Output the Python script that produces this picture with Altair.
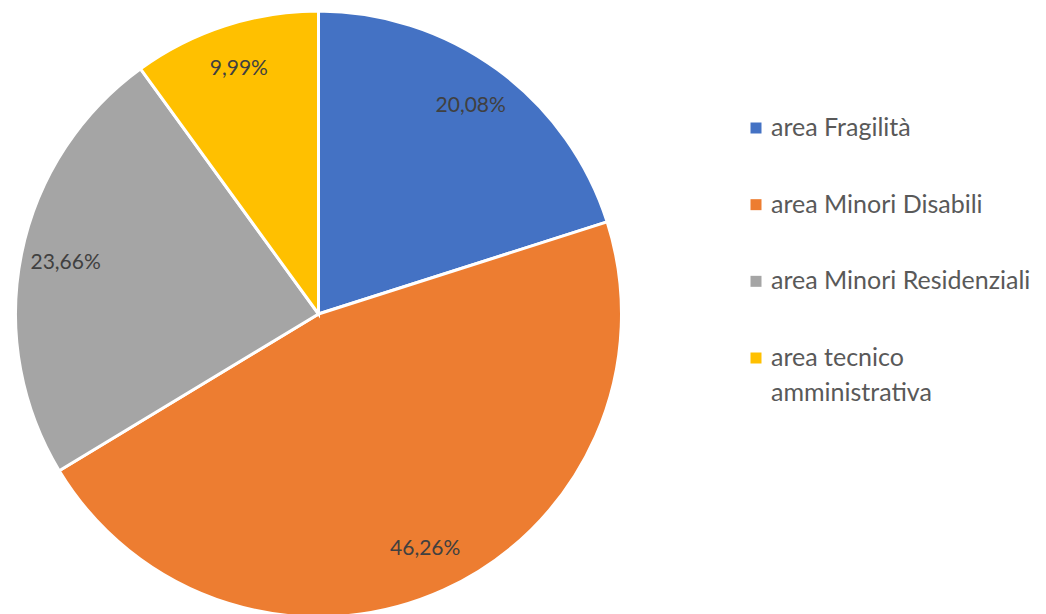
import altair as alt
import pandas as pd

categories = ["area Fragilità", "area Minori Disabili", "area Minori Residenziali", "area tecnico amministrativa"]
legend_text = ["area Fragilità", "area Minori Disabili", "area Minori Residenziali", "area tecnico\namministrativa"]
values = [20.08, 46.26, 23.66, 9.99]
labels = ["20,08%", "46,26%", "23,66%", "9,99%"]
colors = ["#4472C4", "#ED7D31", "#A5A5A5", "#FFC000"]

df = pd.DataFrame({"cat": categories, "val": values, "lab": labels, "leg": legend_text,
                   "ord": list(range(len(categories)))})

color_scale = alt.Scale(domain=categories, range=colors)

base = alt.Chart(df).encode(
    theta=alt.Theta("val:Q", stack=True),
    order=alt.Order("ord:Q"),
)

pie = base.mark_arc(outerRadius=303, stroke="white", strokeWidth=3).encode(
    x=alt.value(310.5), y=alt.value(306),
    color=alt.Color("cat:N", scale=color_scale, legend=None),
)

text = base.mark_text(radius=258, font="Lato", fontSize=21, color="#404040").encode(
    x=alt.value(310.5), y=alt.value(306),
    text="lab:N",
)

ypos = alt.Y("cat:N", sort=categories, axis=None,
             scale=alt.Scale(type="point", range=[120, 350], padding=0))

leg_sym = alt.Chart(df).mark_square(size=121, opacity=1, filled=True).encode(
    x=alt.value(748), y=ypos,
    color=alt.Color("cat:N", scale=color_scale, legend=None),
)

leg_txt = alt.Chart(df).mark_text(font="Lato", fontSize=25, color="#595959", align="left",
                                  baseline="middle", lineBreak="\n", lineHeight=35).encode(
    x=alt.value(763), y=ypos, text="leg:N",
)

chart = alt.layer(pie, text, leg_sym, leg_txt).properties(
    width=1030, height=606, padding=0, autosize=alt.AutoSizeParams(type="none")
).configure_view(stroke=None)

chart.save("out.html", embed_options={"renderer": "svg", "actions": False})
